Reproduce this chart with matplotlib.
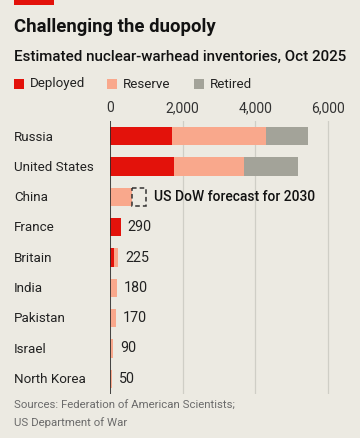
import numpy as np
import matplotlib.pyplot as plt
from matplotlib.patches import Rectangle

countries = ['Russia', 'United States', 'China', 'France', 'Britain',
             'India', 'Pakistan', 'Israel', 'North Korea']
deployed = [1718, 1770, 0, 290, 120, 0, 0, 0, 0]
reserve = [2591, 1930, 600, 0, 105, 180, 170, 90, 50]
retired = [1150, 1477, 0, 0, 0, 0, 0, 0, 0]
value_labels = {'France': '290', 'Britain': '225', 'India': '180',
                'Pakistan': '170', 'Israel': '90', 'North Korea': '50'}
china_forecast = 1000
xticks = [0, 2000, 4000, 6000]

bg = '#ECEAE2'
c_dep = '#E3120B'
c_res = '#F9A88C'
c_ret = '#A3A399'

plt.rcParams['font.family'] = ['Roboto', 'DejaVu Sans']

fig = plt.figure(figsize=(3.6, 4.38), dpi=100, facecolor=bg)
W, H = 360, 438
ax = fig.add_axes([110 / W, 1 - 394 / H, (346 - 110) / W, (394 - 121) / H])
ax.set_facecolor(bg)

y = np.arange(len(countries))
dep = np.array(deployed)
res = np.array(reserve)
ret = np.array(retired)
h = 0.6
ax.barh(y, dep, height=h, color=c_dep, zorder=3)
ax.barh(y, res, left=dep, height=h, color=c_res, zorder=3)
ax.barh(y, ret, left=dep + res, height=h, color=c_ret, zorder=3)

# China 2030 forecast box
ci = countries.index('China')
ax.add_patch(Rectangle((reserve[ci], ci - h / 2), china_forecast - reserve[ci], h,
                       fill=False, ec='#333333', lw=1.1, ls=(0, (3, 2)), zorder=4))
ax.text(1200, ci, 'US DoW forecast for 2030', va='center', ha='left',
        fontsize=10, fontweight='medium', color='#121212', zorder=5)

totals = dep + res + ret
for i, c in enumerate(countries):
    if c in value_labels:
        ax.text(totals[i] + 190, i, value_labels[c], va='center', ha='left',
                fontsize=10.3, color='#222222', zorder=5)

ax.set_xlim(0, 6500)
ax.set_ylim(len(countries) - 0.5, -0.5)
ax.set_xticks(xticks)
ax.set_xticklabels(['{:,}'.format(v) for v in xticks])
ax.xaxis.tick_top()
ax.tick_params(axis='x', length=0, pad=4, labelsize=10, labelcolor='#333333')
ax.set_yticks(y)
ax.set_yticklabels([])
ax.tick_params(axis='y', length=0)
ax.grid(axis='x', color='#CFCEC6', lw=0.9, zorder=0)
for s in ax.spines.values():
    s.set_visible(False)
ax.axvline(0, color='#2a2a2a', lw=1.2, zorder=6)

for i, c in enumerate(countries):
    fig.text(14 / W, 1 - (137 + i * 30.3) / H, c, va='center', ha='left',
             fontsize=9.6, color='#222222')

# header
fig.add_artist(Rectangle((14 / W, 1 - 5 / H), 40 / W, 5 / H,
                         transform=fig.transFigure, color=c_dep, lw=0))
fig.text(14 / W, 1 - 27 / H, 'Challenging the duopoly', va='center', ha='left',
         fontsize=13.3, fontweight='bold', color='#121212')
fig.text(14 / W, 1 - 57 / H, 'Estimated nuclear-warhead inventories, Oct 2025',
         va='center', ha='left', fontsize=10.9, fontweight='medium', color='#121212')

legend_items = [('Deployed', c_dep, 14), ('Reserve', c_res, 107), ('Retired', c_ret, 194)]
for name, col, x0 in legend_items:
    fig.add_artist(Rectangle((x0 / W, 1 - 89 / H), 10 / W, 10 / H,
                             transform=fig.transFigure, color=col, lw=0))
    fig.text((x0 + 16) / W, 1 - 84 / H, name, va='center', ha='left',
             fontsize=9.6, color='#222222')

fig.text(14 / W, 1 - 406 / H, 'Sources: Federation of American Scientists;',
         va='center', ha='left', fontsize=8.2, color='#6b6b6b')
fig.text(14 / W, 1 - 423 / H, 'US Department of War',
         va='center', ha='left', fontsize=8.2, color='#6b6b6b')

fig.savefig('out.png', dpi=100, facecolor=bg)
